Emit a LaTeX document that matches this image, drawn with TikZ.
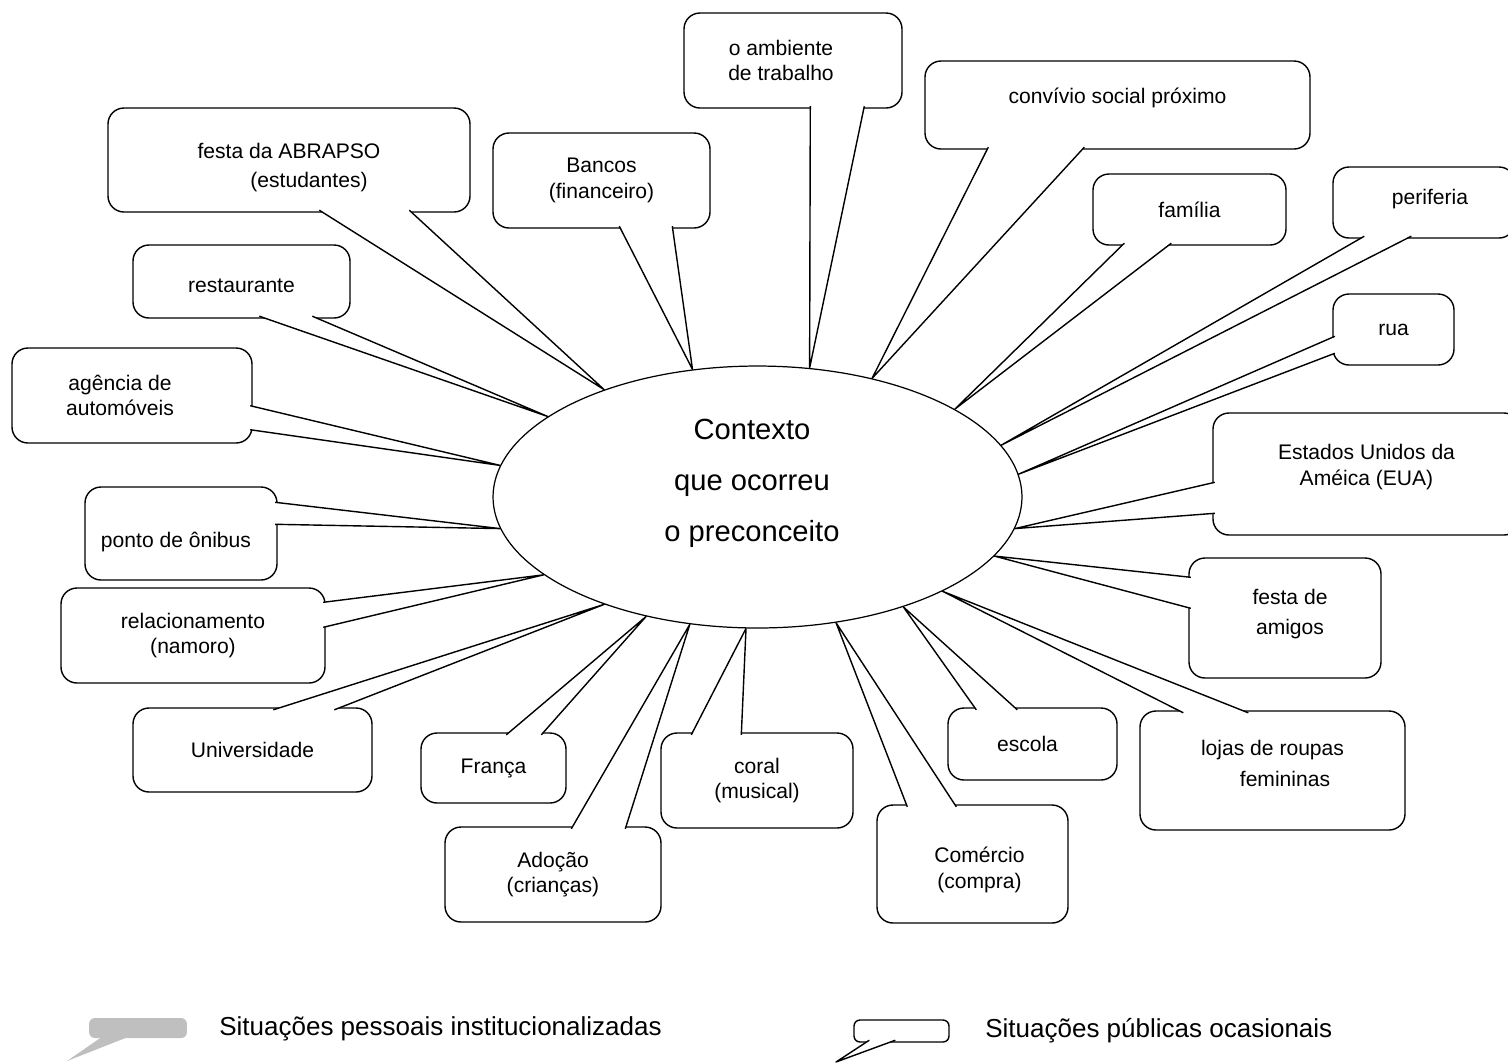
\documentclass[tikz,border=0pt]{standalone}
\usepackage{fontspec}
\setmainfont{Liberation Sans}
\usetikzlibrary{shapes.geometric, calc}

% callout tail: base point, base point, tip
\newcommand{\tail}[3]{%
	\fill[white] #1 -- #3 -- #2 -- cycle;
	\draw[tailline] #1 -- #3 -- #2;}
% move a line of text without changing the box
\newcommand{\nudge}[2]{\raisebox{#1}[\height][\depth]{#2}}

\begin{document}
\begin{tikzpicture}[x=0.02cm, y=-0.02cm,
		bubble/.style 2 args={draw, fill=white, line width=0.8pt,
			rounded corners=0.32cm, align=center, inner sep=0pt,
			font=\fontsize{12pt}{14.5pt}\selectfont,
			minimum width=#1*0.02cm, minimum height=#2*0.02cm},
		tailline/.style={line width=0.8pt, line join=round},
		context/.style={draw, ellipse, line width=0.7pt,
			minimum width=10.58cm, minimum height=5.24cm, inner sep=0pt},
		legendtext/.style={anchor=west, inner sep=0pt,
			font=\fontsize{14.8pt}{17pt}\selectfont}]

		\useasboundingbox (0,0) rectangle (1508,1063);
		\clip (0,0) rectangle (1508,1063);

		\node[context] (ctx) at (757.5,497) {};
		\node[align=center, font=\fontsize{16.6pt}{29pt}\selectfont]
			(ctxtext) at (752,483) {Contexto\\que ocorreu\\o preconceito};

		% boxes
		\node[bubble={218}{95}] (amb) at (793,60.5)
			{o ambiente\hspace*{0.48cm}\\de trabalho\hspace*{0.48cm}};
		\node[bubble={217}{95}] (ban) at (601.5,180.5) {Bancos\\(financeiro)};
		\node[bubble={362}{104}] (abr) at (289,160)
			{\nudge{-0.16cm}{festa da ABRAPSO}\\[2pt]
			\nudge{-0.16cm}{\hspace*{0.8cm}(estudantes)}};
		\node[bubble={217}{73}] (res) at (241.5,281.5) {\nudge{-0.08cm}{restaurante}};
		\node[bubble={240}{95}] (age) at (132,395.5)
			{agência de\hspace*{0.48cm}\\automóveis\hspace*{0.48cm}};
		\node[bubble={192}{93}] (pon) at (181,533.5)
			{\nudge{-0.18cm}{ponto de ônibus\hspace*{0.2cm}}};
		\node[bubble={264}{95}] (rel) at (193,635.5) {relacionamento\\(namoro)};
		\node[bubble={239}{84}] (uni) at (252.5,750) {Universidade};
		\node[bubble={145}{70}] (fra) at (493.5,768) {França};
		\node[bubble={216}{95}] (ado) at (553,874.5) {Adoção\\(crianças)};
		\node[bubble={192}{95}] (cor) at (757,780.5) {coral\\(musical)};
		\node[bubble={191}{118}] (com) at (972.5,864)
			{\nudge{-0.12cm}{\hspace*{0.28cm}Comércio}\\
			\nudge{-0.12cm}{\hspace*{0.28cm}(compra)}};
		\node[bubble={169}{72}] (esc) at (1032.5,744) {escola\hspace*{0.2cm}};
		\node[bubble={265}{119}] (loj) at (1272.5,770.5)
			{\nudge{0.14cm}{lojas de roupas}\\[3pt]
			\nudge{0.14cm}{\hspace*{0.5cm}femininas}};
		\node[bubble={192}{120}] (ami) at (1285,618)
			{\nudge{0.08cm}{\hspace*{0.2cm}festa de}\\[3pt]
			\nudge{0.08cm}{\hspace*{0.2cm}amigos}};
		\node[bubble={307}{122}] (eua) at (1366.5,474)
			{\nudge{0.14cm}{Estados Unidos da}\\\nudge{0.14cm}{Améica (EUA)}};
		\node[bubble={121}{71}] (rua) at (1393.5,329.5) {rua};
		\node[bubble={182}{71}] (per) at (1424,202.5)
			{\nudge{0.06cm}{\hspace*{0.24cm}periferia}};
		\node[bubble={193}{71}] (fml) at (1189.5,209.5) {família};
		\node[bubble={385}{88}] (con) at (1117.5,105)
			{\nudge{0.14cm}{convívio social próximo}};

		% tails to the ellipse
		\tail{($(amb.south west)+(127,-2.5)$)}{($(amb.south west)+(181,-2.5)$)}{(ctx.68)}
		\tail{($(ban.south west)+(127,-2.5)$)}{($(ban.south west)+(180,-2.5)$)}{(ctx.117)}
		\tail{($(abr.south west)+(212,-2.5)$)}{($(abr.south west)+(302,-2.5)$)}{(ctx.145)}
		\tail{($(res.south west)+(127,-2.5)$)}{($(res.south west)+(180,-2.5)$)}{(ctx.159)}
		\tail{($(age.south east)+(-2.5,-38)$)}{($(age.south east)+(-2.5,-14)$)}{(ctx.173)}
		\tail{($(pon.north east)+(-2.5,16)$)}{($(pon.north east)+(-2.5,38)$)}{(ctx.187)}
		\tail{($(rel.north east)+(-2.5,15)$)}{($(rel.north east)+(-2.5,40)$)}{(ctx.200)}
		\tail{($(uni.north west)+(141,2.5)$)}{($(uni.north west)+(202,2.5)$)}{(ctx.215)}
		\tail{($(fra.north west)+(86,2.5)$)}{($(fra.north west)+(121,2.5)$)}{(ctx.227)}
		\tail{($(ado.north west)+(127,2.5)$)}{($(ado.north west)+(181,2.5)$)}{(ctx.242)}
		\tail{($(cor.north west)+(31,2.5)$)}{($(cor.north west)+(81,2.5)$)}{(ctx.265)}
		\tail{($(com.north west)+(31,2.5)$)}{($(com.north west)+(80,2.5)$)}{(ctx.302)}
		\tail{($(esc.north west)+(29,2.5)$)}{($(esc.north west)+(70,2.5)$)}{(ctx.323)}
		\tail{($(loj.north west)+(44,2.5)$)}{($(loj.north west)+(109,2.5)$)}{(ctx.333)}
		\tail{($(ami.north west)+(2.5,20)$)}{($(ami.north west)+(2.5,51)$)}{(ctx.346)}
		\tail{($(eua.north west)+(2.5,70)$)}{($(eua.north west)+(2.5,101)$)}{(ctx.353)}
		\tail{($(rua.north west)+(2.5,43)$)}{($(rua.north west)+(2.5,60)$)}{(ctx.5)}
		\tail{($(per.south west)+(32,-2.5)$)}{($(per.south west)+(79,-2.5)$)}{(ctx.12)}
		\tail{($(fml.south west)+(32,-2.5)$)}{($(fml.south west)+(79,-2.5)$)}{(ctx.24)}
		\tail{($(con.south west)+(64,-2.5)$)}{($(con.south west)+(160,-2.5)$)}{(ctx.46)}

		% legend
		\node[fill=black!25, rounded corners=0.12cm, inner sep=0pt,
			minimum width=1.96cm, minimum height=0.4cm] (legp) at (138,1028) {};
		\coordinate (legptip) at (67,1061);
		\fill[black!25] ($(legp.south west)+(14,-2)$) -- (legptip)
			-- ($(legp.south west)+(41,-2)$) -- cycle;
		\node[legendtext] (legptext) at (219,1029)
			{Situações pessoais institucionalizadas};

		\node[draw, fill=white, line width=0.8pt, rounded corners=0.12cm,
			inner sep=0pt, minimum width=1.9cm, minimum height=0.44cm]
			(lego) at (901.5,1031) {};
		\coordinate (legotip) at (836,1062);
		\tail{($(lego.south west)+(16,-2.5)$)}{($(lego.south west)+(42,-2.5)$)}{(legotip)}
		\node[legendtext] (legotext) at (985,1031)
			{Situações públicas ocasionais};
	\end{tikzpicture}
\end{document}
